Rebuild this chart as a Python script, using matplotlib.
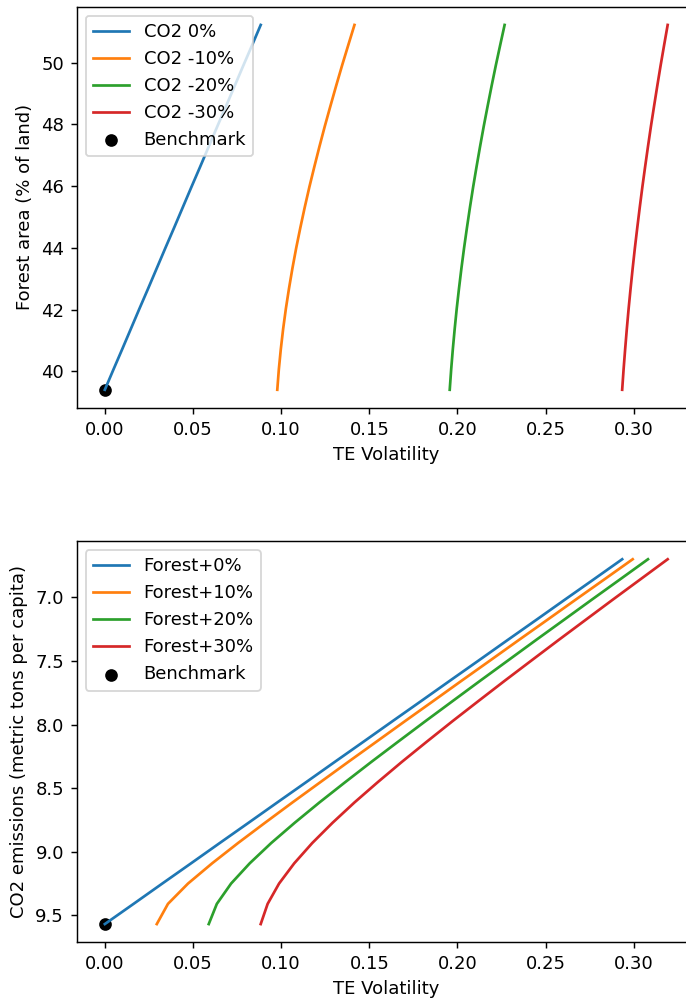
import matplotlib
matplotlib.use("Agg")
import matplotlib.pyplot as plt

# ---- data ----
forest_levels = [39.40, 40.06, 40.71, 41.37, 42.03, 42.68, 43.34, 44.00, 44.65, 45.31,
                 45.97, 46.62, 47.28, 47.94, 48.59, 49.25, 49.91, 50.56, 51.22]
co2_levels = [9.570, 9.411, 9.251, 9.092, 8.932, 8.773, 8.613, 8.454, 8.294, 8.135,
              7.975, 7.816, 7.656, 7.497, 7.337, 7.178, 7.018, 6.859, 6.699]

top_labels = ["CO2 0%", "CO2 -10%", "CO2 -20%", "CO2 -30%"]
te_co2_0 = [0.0, 0.00491, 0.00982, 0.01473, 0.01964, 0.02456, 0.02947, 0.03438, 0.03929, 0.04420,
            0.04911, 0.05402, 0.05893, 0.06384, 0.06876, 0.07367, 0.07858, 0.08349, 0.0884]
te_co2_10 = [0.0978, 0.09868, 0.09979, 0.10112, 0.10268, 0.10444, 0.10640, 0.10855, 0.11087, 0.11336,
             0.11600, 0.11879, 0.12171, 0.12476, 0.12792, 0.13119, 0.13456, 0.13802, 0.14157]
te_co2_20 = [0.1956, 0.19642, 0.19735, 0.19841, 0.19957, 0.20085, 0.20224, 0.20375, 0.20536, 0.20707,
             0.20888, 0.21079, 0.21280, 0.21490, 0.21709, 0.21937, 0.22174, 0.22419, 0.22672]
te_co2_30 = [0.2934, 0.29420, 0.29508, 0.29603, 0.29706, 0.29817, 0.29936, 0.30062, 0.30196, 0.30337,
             0.30485, 0.30640, 0.30803, 0.30972, 0.31149, 0.31332, 0.31521, 0.31717, 0.31920]

bottom_labels = ["Forest+0%", "Forest+10%", "Forest+20%", "Forest+30%"]
te_forest_0 = [0.0, 0.0163, 0.0326, 0.0489, 0.0652, 0.0815, 0.0978, 0.1141, 0.1304, 0.1467,
               0.1630, 0.1793, 0.1956, 0.2119, 0.2282, 0.2445, 0.2608, 0.2771, 0.2934]
te_forest_10 = [0.02946, 0.03580, 0.04719, 0.06085, 0.07557, 0.09083, 0.10640, 0.12216, 0.13804, 0.15402,
                0.17005, 0.18613, 0.20224, 0.21839, 0.23455, 0.25073, 0.26693, 0.28314, 0.29936]
te_forest_20 = [0.05893, 0.06352, 0.07161, 0.08217, 0.09438, 0.10768, 0.12171, 0.13625, 0.15114, 0.16630,
                0.18166, 0.19717, 0.21280, 0.22852, 0.24432, 0.26018, 0.27609, 0.29204, 0.30803]
te_forest_30 = [0.08840, 0.09233, 0.09882, 0.10741, 0.11765, 0.12914, 0.14157, 0.15473, 0.16843, 0.18257,
                0.19703, 0.21177, 0.22672, 0.24184, 0.25711, 0.27249, 0.28798, 0.30355, 0.31920]

bench_te = 0.0
bench_forest = 39.40
bench_co2 = 9.570

# ---- figure ----
DPI = 130
fig = plt.figure(figsize=(686 / DPI, 1000 / DPI), dpi=DPI)
ax1 = fig.add_axes([0.1118, 0.592, 0.9025, 0.4013])
ax2 = fig.add_axes([0.1118, 0.0577, 0.9025, 0.4013])

ax1.scatter([bench_te], [bench_forest], color="black", zorder=1)
for series, lab in zip([te_co2_0, te_co2_10, te_co2_20, te_co2_30], top_labels):
    ax1.plot(series, forest_levels, label=lab, lw=1.5)
h, l = ax1.get_legend_handles_labels()
ax1.legend(h[:4] + [ax1.collections[0]], top_labels + ["Benchmark"], loc="upper left")
ax1.set_xlabel("TE Volatility")
ax1.set_ylabel("Forest area (% of land)")

ax2.scatter([bench_te], [bench_co2], color="black", zorder=1)
for series, lab in zip([te_forest_0, te_forest_10, te_forest_20, te_forest_30], bottom_labels):
    ax2.plot(series, co2_levels, label=lab, lw=1.5)
ax2.invert_yaxis()
h, l = ax2.get_legend_handles_labels()
ax2.legend(h[:4] + [ax2.collections[0]], bottom_labels + ["Benchmark"], loc="upper left")
ax2.set_xlabel("TE Volatility")
ax2.set_ylabel("CO2 emissions (metric tons per capita)")

fig.savefig("out.png", dpi=DPI)
